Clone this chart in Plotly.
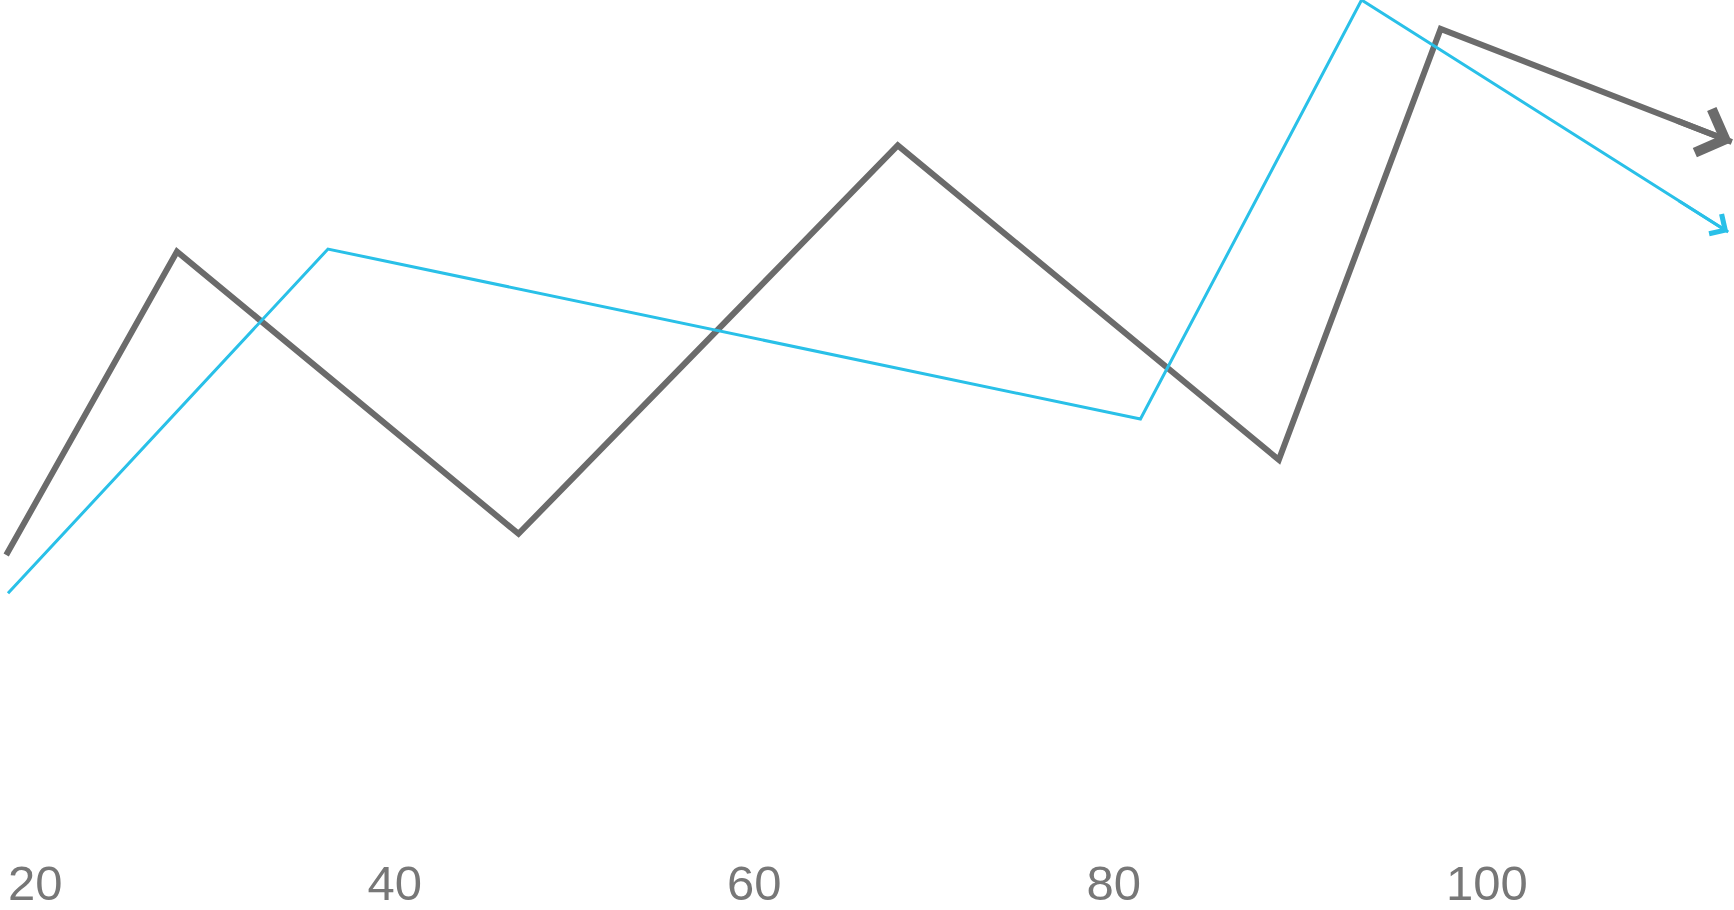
import plotly.graph_objects as go

# vertices of the two lines
gray_x = [19.9, 29.4, 48.4, 69.5, 90.7, 99.7, 115.9]
gray_y = [34.7, 70.4, 37.2, 82.9, 45.9, 96.6, 83.3]
blue_x = [20.0, 37.8, 83.0, 95.3, 115.7]
blue_y = [30.2, 70.7, 50.7, 100.0, 72.7]

tick_vals = [20, 40, 60, 80, 100]
tick_text = ['20', '40', '60', '80', '100']

gray = '#6b6b6b'
blue = '#29c0e8'

W, H = 1734, 910
plot_h = 850
x_range = [19.555, 116.02]
y_range = [0, 100]


def end_arrow(xs, ys, color, width, size):
    # arrow head pointing along the last segment (in screen pixels)
    kx = W / (x_range[1] - x_range[0])
    ky = plot_h / (y_range[1] - y_range[0])
    dx = (xs[-1] - xs[-2]) * kx
    dy = -(ys[-1] - ys[-2]) * ky
    n = (dx ** 2 + dy ** 2) ** 0.5
    L = 60
    return dict(x=xs[-1], y=ys[-1], xref='x', yref='y',
                ax=-dx / n * L, ay=-dy / n * L, axref='pixel', ayref='pixel',
                text='', showarrow=True, arrowhead=4, arrowsize=size,
                arrowwidth=width, arrowcolor=color, standoff=0)


fig = go.Figure()
fig.add_trace(go.Scatter(x=gray_x, y=gray_y, mode='lines',
                         line=dict(color=gray, width=6),
                         cliponaxis=False, hoverinfo='skip'))
fig.add_trace(go.Scatter(x=blue_x, y=blue_y, mode='lines',
                         line=dict(color=blue, width=3),
                         cliponaxis=False, hoverinfo='skip'))

fig.update_layout(
    width=W, height=H,
    margin=dict(l=0, r=0, t=0, b=H - plot_h),
    plot_bgcolor='white', paper_bgcolor='white',
    showlegend=False,
    annotations=[end_arrow(gray_x, gray_y, gray, 6, 1.5),
                 end_arrow(blue_x, blue_y, blue, 3, 1.5)],
)
fig.update_xaxes(range=x_range, tickvals=tick_vals, ticktext=tick_text,
                 showgrid=False, zeroline=False, showline=False, ticks='',
                 ticklabelposition='outside right',
                 tickfont=dict(family='Liberation Sans', size=49, color='#777777'))
fig.update_yaxes(range=y_range, visible=False)

fig.write_html("out.html", config={'displayModeBar': False},
               post_script="document.body.style.margin='0';")
